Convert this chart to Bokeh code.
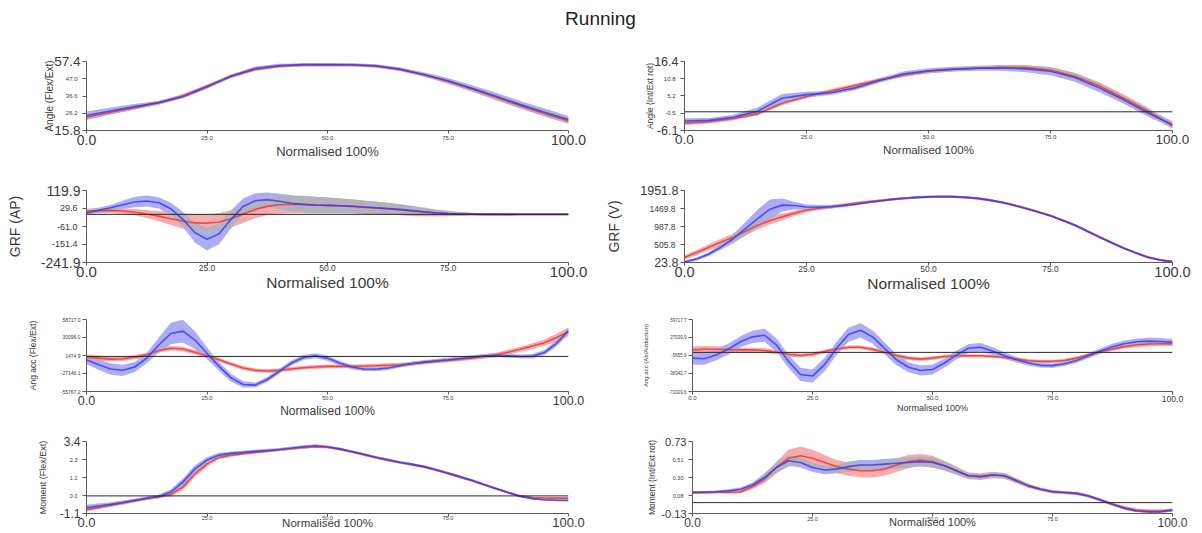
import numpy as np
from bokeh.plotting import figure
from bokeh.models import FixedTicker, Label, Span, Range1d, LinearAxis
from bokeh.layouts import column, row
from bokeh.embed import file_html
from bokeh.resources import INLINE

# ---------------- data ----------------
TITLE = "Running"
X_TITLE = "Normalised 100%"
x_ticks = [0, 25, 50, 75, 100]
x_tick_labels = ["0.0", "25.0", "50.0", "75.0", "100.0"]

x_coarse = [0, 5, 10, 15, 20, 25, 30, 35, 40, 45, 50, 55, 60, 65, 70, 75, 80, 85, 90, 95, 100]
x_fine = [0, 2.5, 5, 7.5, 10, 12.5, 15, 17.5, 20, 22.5, 25, 27.5, 30, 32.5, 35, 37.5, 40, 42.5, 45, 47.5,
          50, 52.5, 55, 57.5, 60, 62.5, 65, 67.5, 70, 72.5, 75, 77.5, 80, 82.5, 85, 87.5, 90, 92.5, 95, 97.5, 100]

# 1 Angle (Flex/Ext)  (x_coarse)
ang_fe_ticks = [15.8, 26.2, 36.6, 47.0, 57.4]
ang_fe_tick_labels = ["15.8", "26.2", "36.6", "47.0", "57.4"]
ang_fe_red = [23.8, 26.8, 29.6, 32.6, 36.8, 42.6, 48.4, 52.6, 54.6, 55.3, 55.4, 55.3, 54.6, 52.6, 49.4, 45.4, 40.8, 35.8, 30.8, 26.0, 21.6]
ang_fe_red_sd = [1.6, 1.4, 1.2, 1.0, 1.0, 1.0, 1.0, 1.0, 0.9, 0.9, 0.9, 0.9, 0.9, 1.0, 1.1, 1.3, 1.5, 1.7, 1.8, 1.8, 1.8]
ang_fe_blue = [24.8, 27.6, 30.2, 32.6, 36.2, 42.0, 48.6, 53.2, 55.0, 55.5, 55.5, 55.4, 54.8, 52.8, 49.6, 45.8, 41.2, 36.4, 31.4, 26.8, 22.4]
ang_fe_blue_sd = [2.4, 2.0, 1.6, 1.2, 1.0, 1.0, 1.0, 1.2, 1.0, 0.9, 0.9, 0.9, 0.9, 1.0, 1.3, 1.6, 1.9, 2.1, 2.2, 2.2, 2.2]

# 2 Angle (Int/Ext rot)  (x_coarse)
ang_ie_ticks = [-6.1, -0.5, 5.2, 10.8, 16.4]
ang_ie_tick_labels = ["-6.1", "-0.5", "5.2", "10.8", "16.4"]
ang_ie_red = [-3.7, -3.2, -2.2, -0.6, 2.8, 5.0, 6.8, 8.6, 10.4, 12.0, 13.2, 13.8, 14.2, 14.5, 14.4, 13.6, 11.6, 8.4, 4.4, 0.2, -4.6]
ang_ie_red_sd = [0.7, 0.6, 0.6, 0.6, 0.7, 0.6, 0.6, 0.6, 0.6, 0.6, 0.6, 0.6, 0.6, 0.7, 0.8, 1.0, 1.1, 1.2, 1.2, 1.1, 1.0]
ang_ie_blue = [-3.0, -2.8, -1.8, 0.2, 4.4, 5.6, 6.2, 7.8, 10.2, 12.4, 13.4, 13.9, 14.2, 14.3, 14.0, 13.2, 11.2, 7.8, 3.9, -0.4, -4.2]
ang_ie_blue_sd = [0.9, 0.8, 0.8, 1.2, 1.4, 0.9, 0.7, 0.7, 0.7, 0.8, 0.8, 0.8, 0.8, 0.9, 1.1, 1.3, 1.4, 1.4, 1.3, 1.2, 1.1]

# 3 GRF (AP)  (x_fine)
grf_ap_ticks = [-241.9, -151.4, -61.0, 29.6, 119.9]
grf_ap_tick_labels = ["-241.9", "-151.4", "-61.0", "29.6", "119.9"]
grf_ap_red = [16, 19, 20, 17, 11, 2, -9, -22, -34, -43, -45, -38, -22, 2, 25, 40, 48, 50, 50, 47,
              45, 43, 40, 36, 32, 28, 23, 17, 12, 7, 4, 2, 1, 0, 0, 0, 0, 0, 0, 0, 0]
grf_ap_red_sd = [12, 14, 14, 14, 16, 20, 26, 32, 38, 42, 44, 44, 44, 44, 44, 44, 44, 44, 44, 42,
                 40, 38, 36, 34, 32, 30, 28, 26, 22, 18, 14, 10, 7, 5, 4, 4, 3, 3, 3, 3, 3]
grf_ap_blue = [8, 20, 33, 48, 62, 67, 58, 28, -25, -92, -125, -98, -25, 40, 68, 74, 66, 56, 50, 47,
               45, 43, 41, 37, 33, 29, 25, 19, 13, 8, 4, 2, 1, 0, 0, 0, 0, 0, 0, 0, 0]
grf_ap_blue_sd = [10, 12, 15, 20, 26, 28, 28, 30, 38, 50, 56, 52, 45, 40, 38, 36, 38, 40, 40, 40,
                  38, 36, 34, 32, 30, 28, 26, 22, 18, 14, 10, 8, 6, 5, 4, 4, 3, 3, 3, 3, 3]

# 4 GRF (V)  (x_fine)
grf_v_ticks = [23.8, 505.8, 987.8, 1469.8, 1951.8]
grf_v_tick_labels = ["23.8", "505.8", "987.8", "1469.8", "1951.8"]
grf_v_red = [160, 290, 430, 570, 703, 860, 1020, 1140, 1246, 1340, 1427, 1475, 1518, 1565, 1609, 1648, 1682, 1714, 1744, 1766,
             1780, 1786, 1784, 1768, 1742, 1695, 1635, 1560, 1472, 1378, 1278, 1158, 1030, 872, 715, 562, 415, 285, 170, 95, 50]
grf_v_red_sd = [60, 70, 80, 90, 100, 110, 110, 100, 90, 70, 60, 50, 45, 40, 40, 35, 35, 30, 30, 30,
                30, 30, 30, 30, 30, 30, 30, 30, 30, 30, 30, 30, 30, 30, 30, 30, 30, 30, 30, 25, 25]
grf_v_blue = [40, 120, 250, 440, 660, 930, 1200, 1450, 1560, 1550, 1510, 1505, 1518, 1545, 1582, 1630, 1672, 1712, 1744, 1768,
              1782, 1790, 1788, 1770, 1744, 1695, 1635, 1558, 1470, 1375, 1273, 1150, 1020, 860, 703, 550, 404, 275, 160, 85, 42]
grf_v_blue_sd = [30, 40, 50, 70, 120, 180, 240, 260, 180, 100, 70, 60, 50, 40, 35, 30, 30, 30, 30, 30,
                 30, 30, 30, 30, 30, 30, 30, 30, 30, 30, 30, 30, 30, 30, 30, 30, 30, 30, 25, 25, 25]

# 5 Ang acc (Flex/Ext)  (x_fine)
acc_fe_ticks = [-55767.2, -27146.1, 1474.9, 30096.0, 58717.0]
acc_fe_tick_labels = ["-55767.2", "-27146.1", "1474.9", "30096.0", "58717.0"]
acc_fe_red = [-1100, -2700, -4300, -3700, -1100, 2500, 9300, 13000, 11900, 6700, 1000, -5300, -12100, -18400, -22100, -23100,
              -22100, -20000, -17900, -16800, -15800, -15800, -15800, -15300, -14800, -14000, -13200, -11400, -9500, -8000,
              -6400, -4500, -2700, 0, 2500, 6500, 11400, 16500, 21900, 30000, 39100]
acc_fe_red_sd = [4000, 4000, 3500, 3500, 3500, 3500, 3500, 3500, 3500, 3500, 3500, 3000, 3000, 3000, 3000, 3000,
                 3000, 3000, 3000, 3000, 3000, 3000, 3000, 3000, 3000, 3000, 3000, 3000, 3000, 3000,
                 3000, 3000, 3000, 3500, 3500, 4000, 4000, 4500, 5000, 6000, 7000]
acc_fe_blue = [-5300, -13200, -20000, -22100, -16800, -2700, 18200, 36500, 40200, 26000, 5100, -15800, -34100, -44600, -45600, -36700,
               -23600, -10600, -1700, 1000, -2700, -10600, -16800, -20000, -20500, -18500, -14800, -11600, -9000, -6900,
               -5300, -3200, -1100, 1000, 1500, 1000, 0, 300, 6200, 20800, 40700]
acc_fe_blue_sd = [7000, 8000, 9000, 9000, 8000, 8000, 12000, 17000, 18000, 14000, 9000, 7000, 6000, 5000, 4000, 4000,
                  4000, 4000, 4000, 4000, 4000, 3500, 3500, 3000, 3000, 3000, 3000, 3000, 3000, 3000,
                  3000, 3000, 3000, 3000, 3000, 3000, 3000, 3500, 4000, 5000, 6000]

# 6 Ang acc (Ab/Adduction)  (x_fine)
acc_aa_ticks = [-71029.6, -38342.7, -5655.9, 27030.9, 59717.7]
acc_aa_tick_labels = ["-71029.6", "-38342.7", "-5655.9", "27030.9", "59717.7"]
acc_aa_red = [4500, 5600, 5600, 5000, 4500, 4500, 3300, 300, -3300, -5600, -3300, 1500, 6200, 9200, 9200, 5600,
              300, -5600, -10400, -12200, -10400, -7400, -6200, -6200, -6200, -7400, -9200, -12200, -15100, -16300,
              -16300, -14600, -10400, -4500, 1500, 6200, 10400, 13400, 15100, 15700, 15700]
acc_aa_red_sd = [6000, 6000, 5500, 5000, 4500, 4000, 4000, 4000, 3500, 3500, 3500, 3500, 3500, 3500, 3500, 3500,
                 3500, 3500, 3500, 3500, 3500, 3000, 3000, 3000, 3000, 3000, 3000, 3000, 3000, 3000,
                 3000, 3000, 3000, 3000, 3000, 3500, 3500, 4000, 4000, 4000, 4000]
acc_aa_blue = [-10400, -11600, -4500, 6200, 19300, 28200, 31200, 13400, -16300, -40100, -43000, -22300, 7400, 32400, 40100, 28200,
               7400, -13400, -27000, -33000, -31200, -19300, -4500, 7400, 9200, 2700, -6200, -13400, -19300, -23500,
               -24100, -20500, -14600, -6200, 2700, 10400, 15700, 19300, 20500, 19900, 18100]
acc_aa_blue_sd = [12000, 11000, 10000, 10000, 10000, 11000, 12000, 12000, 12000, 12000, 12000, 12000, 12000, 13000, 13000, 12000,
                  11000, 10000, 9000, 9000, 9000, 8000, 8000, 8000, 8000, 7000, 6000, 5000, 4500, 4000,
                  4000, 4000, 4000, 4500, 5000, 5500, 6000, 6000, 6000, 6000, 6000]

# 7 Moment (Flex/Ext)  (x_fine)
mom_fe_ticks = [-1.1, 0.025, 1.15, 2.275, 3.4]
mom_fe_tick_labels = ["-1.1", "0.0", "1.2", "2.3", "3.4"]
mom_fe_red = [-0.86, -0.72, -0.58, -0.44, -0.30, -0.16, -0.05, 0.10, 0.55, 1.38, 2.00, 2.41, 2.55, 2.64, 2.72, 2.80,
              2.88, 2.96, 3.03, 3.07, 3.04, 2.92, 2.76, 2.58, 2.40, 2.24, 2.09, 1.96, 1.82, 1.62,
              1.42, 1.19, 0.96, 0.71, 0.46, 0.22, 0.00, -0.10, -0.13, -0.14, -0.14]
mom_fe_red_sd = [0.12, 0.11, 0.10, 0.10, 0.10, 0.10, 0.10, 0.14, 0.20, 0.20, 0.18, 0.12, 0.10, 0.09, 0.08, 0.08,
                 0.08, 0.08, 0.08, 0.08, 0.08, 0.08, 0.08, 0.08, 0.08, 0.08, 0.08, 0.08, 0.08, 0.08,
                 0.08, 0.08, 0.08, 0.07, 0.07, 0.06, 0.06, 0.05, 0.05, 0.05, 0.05]
mom_fe_blue = [-0.73, -0.63, -0.53, -0.41, -0.28, -0.15, -0.03, 0.24, 0.86, 1.69, 2.24, 2.55, 2.66, 2.72, 2.78, 2.84,
               2.90, 2.98, 3.07, 3.13, 3.07, 2.94, 2.78, 2.60, 2.41, 2.25, 2.10, 1.97, 1.83, 1.63,
               1.42, 1.19, 0.96, 0.70, 0.45, 0.20, -0.03, -0.17, -0.24, -0.27, -0.28]
mom_fe_blue_sd = [0.18, 0.16, 0.14, 0.12, 0.10, 0.10, 0.12, 0.18, 0.22, 0.22, 0.18, 0.14, 0.12, 0.10, 0.10, 0.10,
                  0.10, 0.10, 0.10, 0.10, 0.08, 0.08, 0.08, 0.08, 0.08, 0.08, 0.08, 0.08, 0.08, 0.08,
                  0.08, 0.08, 0.08, 0.07, 0.07, 0.06, 0.06, 0.06, 0.06, 0.06, 0.06]

# 8 Moment (Int/Ext rot)  (x_fine)
mom_ie_ticks = [-0.13, 0.085, 0.30, 0.515, 0.73]
mom_ie_tick_labels = ["-0.13", "0.08", "0.30", "0.51", "0.73"]
mom_ie_red = [0.12, 0.12, 0.125, 0.125, 0.13, 0.19, 0.28, 0.42, 0.53, 0.56, 0.53, 0.48, 0.43, 0.40, 0.38, 0.38,
              0.40, 0.45, 0.49, 0.51, 0.49, 0.44, 0.38, 0.32, 0.31, 0.33, 0.32, 0.26, 0.20, 0.16,
              0.13, 0.12, 0.11, 0.08, 0.03, -0.02, -0.06, -0.09, -0.10, -0.10, -0.09]
mom_ie_red_sd = [0.015, 0.015, 0.015, 0.02, 0.02, 0.03, 0.05, 0.07, 0.10, 0.11, 0.10, 0.09, 0.08, 0.08, 0.08, 0.08,
                 0.08, 0.08, 0.08, 0.07, 0.07, 0.06, 0.05, 0.04, 0.04, 0.04, 0.035, 0.03, 0.025, 0.02,
                 0.02, 0.02, 0.02, 0.02, 0.02, 0.02, 0.02, 0.02, 0.02, 0.02, 0.02]
mom_ie_blue = [0.12, 0.125, 0.13, 0.14, 0.16, 0.21, 0.30, 0.42, 0.50, 0.48, 0.42, 0.39, 0.40, 0.43, 0.45, 0.45,
               0.46, 0.47, 0.48, 0.49, 0.48, 0.44, 0.38, 0.32, 0.31, 0.33, 0.32, 0.26, 0.20, 0.16,
               0.13, 0.12, 0.11, 0.08, 0.03, -0.02, -0.07, -0.10, -0.11, -0.11, -0.09]
mom_ie_blue_sd = [0.015, 0.015, 0.015, 0.02, 0.02, 0.03, 0.05, 0.06, 0.06, 0.06, 0.05, 0.05, 0.05, 0.06, 0.06, 0.06,
                  0.06, 0.06, 0.06, 0.06, 0.06, 0.05, 0.04, 0.03, 0.03, 0.03, 0.03, 0.025, 0.02, 0.015,
                  0.015, 0.015, 0.015, 0.015, 0.015, 0.015, 0.015, 0.015, 0.015, 0.015, 0.015]

# ---------------- style ----------------
FONT = "Liberation Sans"
TXT = "#3a3a3a"
AXC = "#5a5a5a"
RED_LINE = "#f03c3c"
BLUE_LINE = "#3b3bf0"
RED_BAND = "#f6acac"
BLUE_BAND = "#adadf6"
BOTH_BAND = "#b3b1bc"
CHAR_EM = {".": 0.278, "-": 0.333}


def text_w(s, fs):
    return fs * sum(CHAR_EM.get(c, 0.556) for c in s)


def style_axis(ax, fs, line, tick_out):
    ax.axis_line_color = AXC if line else None
    ax.major_tick_line_color = AXC if line else None
    ax.minor_tick_line_color = None
    ax.major_tick_in = 0
    ax.major_tick_out = tick_out
    ax.major_label_text_font = FONT
    ax.major_label_text_color = TXT
    ax.major_label_text_font_size = f"{fs}px"


def style_title(ax, text, fs, standoff):
    ax.axis_label = text
    ax.axis_label_text_font = FONT
    ax.axis_label_text_font_style = "normal"
    ax.axis_label_text_font_size = f"{fs}px"
    ax.axis_label_text_color = TXT
    ax.axis_label_standoff = int(round(standoff))


def make_panel(x, red, red_sd, blue, blue_sd, yt, ytl, y_title, st, geo):
    w, h, bl, br, bt, bb = geo
    p = figure(width=w, height=h, x_range=Range1d(0, 100), y_range=Range1d(yt[0], yt[-1]),
               output_backend="svg", toolbar_location=None,
               min_border_left=bl, min_border_right=br, min_border_top=bt, min_border_bottom=bb)
    p.outline_line_color = None
    p.xgrid.visible = False
    p.ygrid.visible = False

    xs = np.array(x, dtype=float)
    r = np.array(red, dtype=float); rs = np.array(red_sd, dtype=float)
    b = np.array(blue, dtype=float); bs = np.array(blue_sd, dtype=float)
    r_lo, r_hi = r - rs, r + rs
    b_lo, b_hi = b - bs, b + bs
    i_lo = np.maximum(r_lo, b_lo)
    i_hi = np.maximum(np.minimum(r_hi, b_hi), i_lo)

    p.varea(x=xs, y1=r_lo, y2=r_hi, fill_color=RED_BAND)
    p.varea(x=xs, y1=b_lo, y2=b_hi, fill_color=BLUE_BAND)
    p.varea(x=xs, y1=i_lo, y2=i_hi, fill_color=BOTH_BAND)
    if st["zero"]:
        p.add_layout(Span(location=0, dimension="width", line_color="#2a2a2a", line_width=1, level="glyph"))
    p.line(xs, r, line_color=RED_LINE, line_width=1.6, line_alpha=0.9)
    p.line(xs, b, line_color=BLUE_LINE, line_width=1.6, line_alpha=0.85)

    # ---- x: axis A (line, ticks, large end labels) + axis B (small labels, title)
    big = st["x_big"]
    fs_big, fs_mid, fs_t = st["x_end_fs"], st["x_mid_fs"], st["x_title_fs"]
    xa = p.xaxis[0]
    xa.ticker = FixedTicker(ticks=x_ticks)
    style_axis(xa, fs_big, True, 3)
    xa.major_label_standoff = 1
    xa.major_label_overrides = {t: (lab if i in big else "") for i, (t, lab) in enumerate(zip(x_ticks, x_tick_labels))}
    xb = LinearAxis(ticker=FixedTicker(ticks=x_ticks))
    style_axis(xb, fs_mid, False, 0)
    xb.major_label_overrides = {t: ("" if i in big else lab) for i, (t, lab) in enumerate(zip(x_ticks, x_tick_labels))}
    size_a = 3 + 1 + 0.85 * fs_big
    xb.major_label_standoff = int(round(st["x_mid_d"] - 0.575 * fs_mid - size_a))
    style_title(xb, X_TITLE, fs_t, st["x_title_d"] - st["x_mid_d"] - 0.575 * (fs_mid + fs_t))
    p.add_layout(xb, "below")

    # ---- y
    ya = p.yaxis[0]
    ya.ticker = FixedTicker(ticks=yt)
    fs_ymid, fs_yt = st["y_mid_fs"], st["y_title_fs"]
    if st["y_end_fs"]:
        fse = st["y_end_fs"]
        style_axis(ya, fse, True, 4)
        ya.major_label_standoff = 2
        ends = (0, len(yt) - 1)
        ya.major_label_overrides = {t: (lab if i in ends else "") for i, (t, lab) in enumerate(zip(yt, ytl))}
        yb = LinearAxis(ticker=FixedTicker(ticks=yt))
        style_axis(yb, fs_ymid, False, 0)
        yb.major_label_overrides = {t: ("" if i in ends else lab) for i, (t, lab) in enumerate(zip(yt, ytl))}
        size_a = 4 + 2 + max(text_w(ytl[0], fse), text_w(ytl[-1], fse))
        yb.major_label_standoff = int(round(6 - size_a))
        w_mid = max(text_w(s, fs_ymid) for s in ytl[1:-1])
        style_title(yb, y_title, fs_yt, st["y_title_d"] - 6 - w_mid - 0.575 * fs_yt)
        p.add_layout(yb, "left")
    else:
        style_axis(ya, fs_ymid, True, 4)
        ya.major_label_standoff = 2
        ya.major_label_overrides = {t: lab for t, lab in zip(yt, ytl)}
        w_all = max(text_w(s, fs_ymid) for s in ytl)
        style_title(ya, y_title, fs_yt, st["y_title_d"] - 6 - w_all - 0.575 * fs_yt)
    return p


LW, RW = 601, 599
GEO = {
    "r1l": (LW, 130, 86, 33, 21, 40), "r1r": (RW, 130, 83, 28, 21, 40),
    "r2l": (LW, 132, 86, 33, 20, 40), "r2r": (RW, 132, 83, 28, 20, 40),
    "r3l": (LW, 126, 86, 33, 17, 37), "r3r": (RW, 126, 91, 28, 17, 37),
    "r4l": (LW, 104, 86, 33, 13, 19), "r4r": (RW, 104, 91, 28, 13, 19),
}

ST = {
    "r1l": dict(zero=False, x_big=(0, 4), x_end_fs=14, x_mid_fs=6, x_mid_d=7, x_title_fs=13, x_title_d=19,
                y_end_fs=13.5, y_mid_fs=6, y_title_fs=10, y_title_d=31),
    "r1r": dict(zero=True, x_big=(0, 4), x_end_fs=13.5, x_mid_fs=6, x_mid_d=7, x_title_fs=11.5, x_title_d=19,
                y_end_fs=12.5, y_mid_fs=6, y_title_fs=8.5, y_title_d=29),
    "r2l": dict(zero=True, x_big=(0, 4), x_end_fs=15, x_mid_fs=8.5, x_mid_d=7, x_title_fs=15.5, x_title_d=21,
                y_end_fs=14, y_mid_fs=9, y_title_fs=14, y_title_d=66),
    "r2r": dict(zero=False, x_big=(0, 4), x_end_fs=14.5, x_mid_fs=8.5, x_mid_d=7, x_title_fs=15.5, x_title_d=21,
                y_end_fs=12.5, y_mid_fs=8.5, y_title_fs=14, y_title_d=65),
    "r3l": dict(zero=True, x_big=(0, 4), x_end_fs=12.5, x_mid_fs=5.5, x_mid_d=6, x_title_fs=12, x_title_d=17,
                y_end_fs=None, y_mid_fs=5, y_title_fs=8.5, y_title_d=51),
    "r3r": dict(zero=True, x_big=(4,), x_end_fs=8.5, x_mid_fs=6, x_mid_d=6, x_title_fs=9, x_title_d=15,
                y_end_fs=None, y_mid_fs=4.5, y_title_fs=6, y_title_d=44),
    "r4l": dict(zero=True, x_big=(0, 4), x_end_fs=13, x_mid_fs=5.5, x_mid_d=4, x_title_fs=11.5, x_title_d=8,
                y_end_fs=12, y_mid_fs=5.5, y_title_fs=9, y_title_d=38),
    "r4r": dict(zero=True, x_big=(0, 4), x_end_fs=12, x_mid_fs=5.5, x_mid_d=4, x_title_fs=11, x_title_d=5.5,
                y_end_fs=11, y_mid_fs=5.5, y_title_fs=8.5, y_title_d=35),
}

p1 = make_panel(x_coarse, ang_fe_red, ang_fe_red_sd, ang_fe_blue, ang_fe_blue_sd,
                ang_fe_ticks, ang_fe_tick_labels, "Angle (Flex/Ext)", ST["r1l"], GEO["r1l"])
p2 = make_panel(x_coarse, ang_ie_red, ang_ie_red_sd, ang_ie_blue, ang_ie_blue_sd,
                ang_ie_ticks, ang_ie_tick_labels, "Angle (Int/Ext rot)", ST["r1r"], GEO["r1r"])
p3 = make_panel(x_fine, grf_ap_red, grf_ap_red_sd, grf_ap_blue, grf_ap_blue_sd,
                grf_ap_ticks, grf_ap_tick_labels, "GRF (AP)", ST["r2l"], GEO["r2l"])
p4 = make_panel(x_fine, grf_v_red, grf_v_red_sd, grf_v_blue, grf_v_blue_sd,
                grf_v_ticks, grf_v_tick_labels, "GRF (V)", ST["r2r"], GEO["r2r"])
p5 = make_panel(x_fine, acc_fe_red, acc_fe_red_sd, acc_fe_blue, acc_fe_blue_sd,
                acc_fe_ticks, acc_fe_tick_labels, "Ang acc (Flex/Ext)", ST["r3l"], GEO["r3l"])
p6 = make_panel(x_fine, acc_aa_red, acc_aa_red_sd, acc_aa_blue, acc_aa_blue_sd,
                acc_aa_ticks, acc_aa_tick_labels, "Ang acc (Ab/Adduction)", ST["r3r"], GEO["r3r"])
p7 = make_panel(x_fine, mom_fe_red, mom_fe_red_sd, mom_fe_blue, mom_fe_blue_sd,
                mom_fe_ticks, mom_fe_tick_labels, "Moment (Flex/Ext)", ST["r4l"], GEO["r4l"])
p8 = make_panel(x_fine, mom_ie_red, mom_ie_red_sd, mom_ie_blue, mom_ie_blue_sd,
                mom_ie_ticks, mom_ie_tick_labels, "Moment (Int/Ext rot)", ST["r4r"], GEO["r4r"])

# title strip
t = figure(width=LW + RW, height=40, x_range=Range1d(0, 1), y_range=Range1d(0, 1),
           output_backend="svg", toolbar_location=None,
           min_border_left=0, min_border_right=0, min_border_top=0, min_border_bottom=0)
t.axis.visible = False
t.grid.visible = False
t.outline_line_color = None
t.add_layout(Label(x=0.5, y=0.55, text=TITLE, text_align="center", text_baseline="middle",
                   text_font=FONT, text_font_size="19px", text_color="#222222"))

layout = column(t, row(p1, p2), row(p3, p4), row(p5, p6), row(p7, p8))

with open("out.html", "w") as f:
    f.write(file_html(layout, INLINE, title=TITLE))
